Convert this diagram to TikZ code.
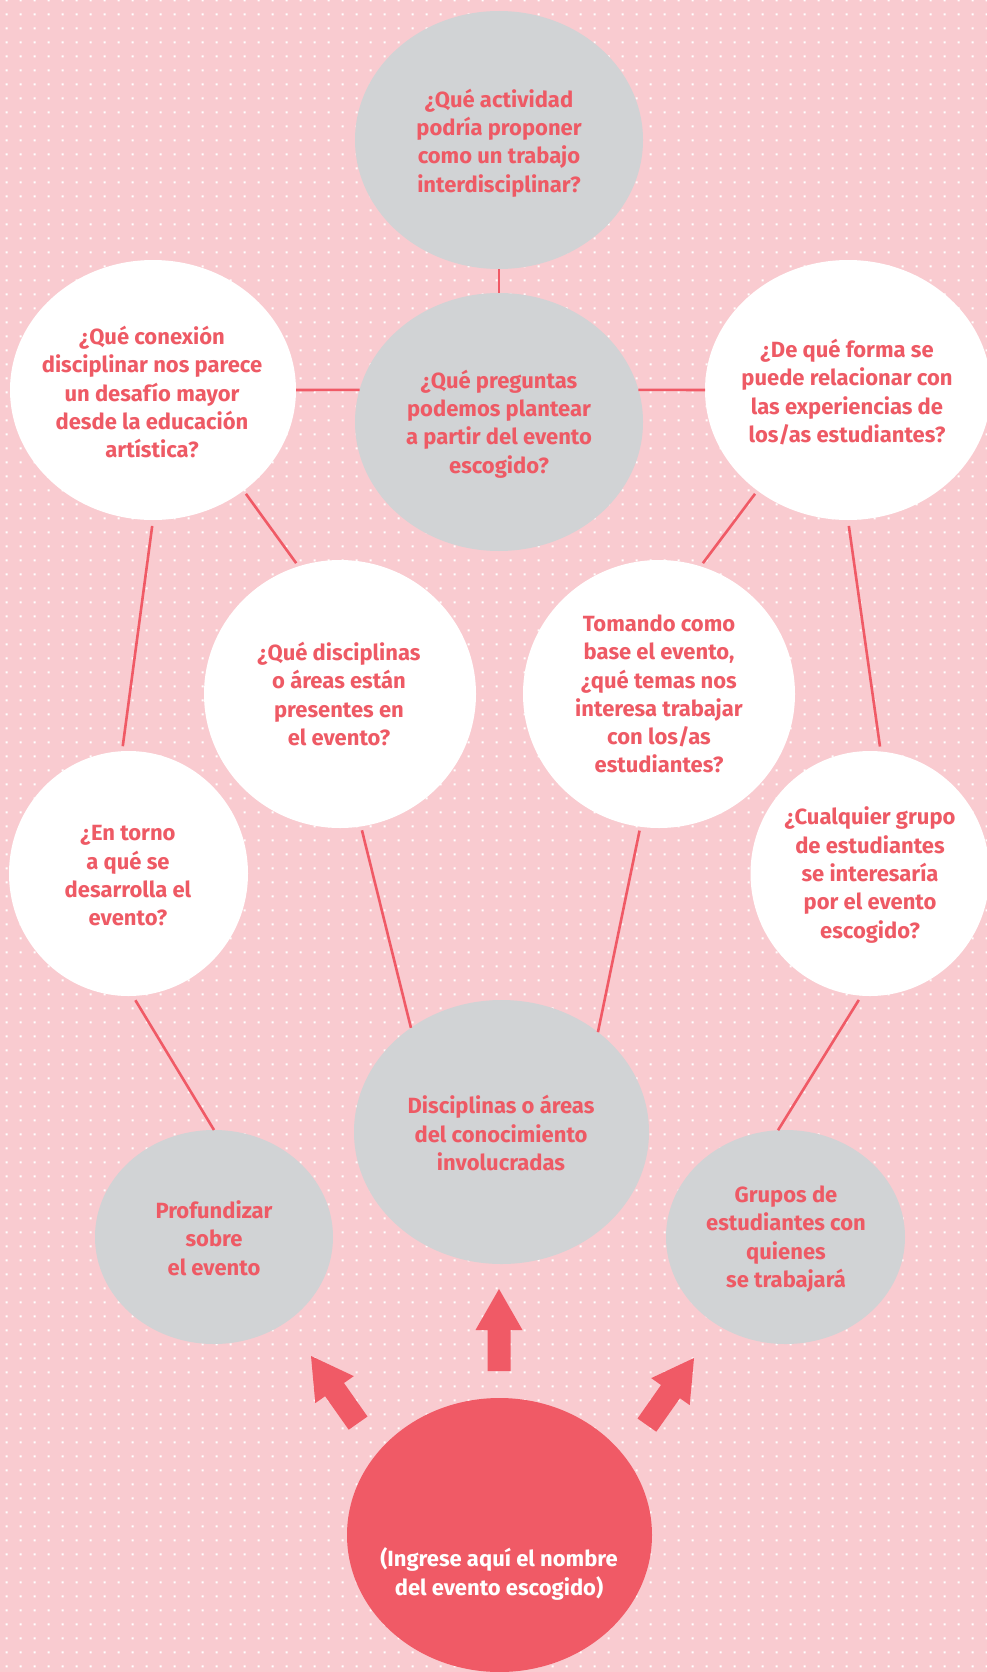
\documentclass[tikz,border=0pt]{standalone}
\usepackage{fontspec}
\setmainfont{Fira Sans}
\usetikzlibrary{shapes.geometric,patterns.meta}
\definecolor{bgpink}{RGB}{249,203,208}
\definecolor{bgray}{RGB}{209,211,213}
\definecolor{bred}{RGB}{240,90,102}
\definecolor{tred}{RGB}{238,90,101}
\tikzdeclarepattern{
  name=gdots,
  type=colored,
  bottom left={(0pt,0pt)},
  top right={(13.67pt,13.67pt)},
  tile size={(13.67pt,13.67pt)},
  code={\fill[white] (5.8pt,5.8pt) rectangle (7.9pt,7.9pt);}
}
\tikzset{
  bub/.style={ellipse, inner sep=0pt, outer sep=0pt, draw=none},
  graybub/.style={bub, fill=bgray},
  whitebub/.style={bub, fill=white},
  redbub/.style={bub, fill=bred},
  txt/.style={align=center, inner sep=0pt, text=tred, font=\bfseries\fontsize{22}{28.3}\selectfont},
  wtxt/.style={txt, text=white},
  conn/.style={draw=bred, line width=2.6pt},
  blockarrow/.style={fill=bred, draw=none}
}
\begin{document}
\begin{tikzpicture}[x=1pt,y=-1pt]
\useasboundingbox (0,0) rectangle (987,1672);
\fill[bgpink] (0,0) rectangle (987,1672);
\fill[pattern=gdots] (0,0) rectangle (987,1672);

% bubbles
\node[graybub, minimum width=288, minimum height=258] (top) at (499,140) {};
\node[graybub, minimum width=288, minimum height=258] (ctr) at (499,422) {};
\node[whitebub, minimum width=286, minimum height=260] (lu) at (153,390) {};
\node[whitebub, minimum width=286, minimum height=260] (ru) at (848,390) {};
\node[whitebub, minimum width=272, minimum height=268] (ml) at (340,694) {};
\node[whitebub, minimum width=272, minimum height=268] (mr) at (659,694) {};
\node[whitebub, minimum width=239, minimum height=245] (et) at (128.5,873.5) {};
\node[whitebub, minimum width=239, minimum height=245] (cg) at (870,873.5) {};
\node[graybub, minimum width=295, minimum height=264] (dis) at (501.5,1132) {};
\node[graybub, minimum width=238, minimum height=214] (pro) at (214,1237) {};
\node[graybub, minimum width=239, minimum height=214] (gru) at (785.5,1237) {};
\node[redbub, minimum width=305, minimum height=274] (red) at (499.5,1535) {};

% texts
\node[txt] (ttop) at (499,143) {¿Qué actividad\\podría proponer\\como un trabajo\\interdisciplinar?};
\node[txt] (tctr) at (499,424) {¿Qué preguntas\\podemos plantear\\a partir del evento\\escogido?};
\node[txt] (tlu) at (152,392) {¿Qué conexión\\disciplinar nos parece\\un desafío mayor\\desde la educación\\artística?};
\node[txt] (tru) at (847,392) {¿De qué forma se\\puede relacionar con\\las experiencias de\\los/as estudiantes?};
\node[txt] (tml) at (339,694) {¿Qué disciplinas\\o áreas están\\presentes en\\el evento?};
\node[txt] (tmr) at (659,694) {Tomando como\\base el evento,\\¿qué temas nos\\interesa trabajar\\con los/as\\estudiantes?};
\node[txt] (tet) at (128,876) {¿En torno\\a qué se\\desarrolla el\\evento?};
\node[txt] (tcg) at (870,875) {¿Cualquier grupo\\de estudiantes\\se interesaría\\por el evento\\escogido?};
\node[txt] (tdis) at (501,1133) {Disciplinas o áreas\\del conocimiento\\involucradas};
\node[txt] (tpro) at (214,1238) {Profundizar\\sobre\\el evento};
\node[txt] (tgru) at (786,1239) {Grupos de\\estudiantes con\\quienes\\se trabajará};
\node[wtxt] (tred) at (499,1574) {(Ingrese aquí el nombre\\del evento escogido)};

% connectors
\draw[conn] (top.south) -- (ctr.north);
\draw[conn] (lu.east) -- (ctr.167);
\draw[conn] (ctr.13) -- (ru.west);
\draw[conn, shorten <=4pt, shorten >=4pt] (lu.-48) -- (ml.108);
\draw[conn, shorten <=4pt, shorten >=4pt] (ru.-132) -- (mr.72);
\draw[conn, shorten <=6pt, shorten >=5pt] (lu.-90) -- (et.93.4);
\draw[conn, shorten <=6pt, shorten >=5pt] (ru.-90) -- (cg.85.5);
\draw[conn, shorten <=4pt] (ml.-81.7) -- (dis.131.9);
\draw[conn, shorten <=4pt] (mr.-98.7) -- (dis.46.6);
\draw[conn, shorten <=5pt] (et.-88.9) -- (pro.north);
\draw[conn, shorten <=5pt] (cg.-94) -- (gru.94);

% block arrows
\fill[blockarrow] (499,1289) -- (522.5,1330) -- (510.5,1330) -- (510.5,1371) -- (487.5,1371) -- (487.5,1330) -- (475.5,1330) -- cycle;
\fill[blockarrow] (311,1356) -- (353.8,1376.1) -- (344.0,1383.0) -- (367.5,1416.5) -- (348.7,1429.7) -- (325.1,1396.2) -- (315.3,1403.1) -- cycle;
\fill[blockarrow] (694,1358) -- (651.2,1378.1) -- (661.0,1385.0) -- (637.5,1418.5) -- (656.3,1431.7) -- (679.9,1398.2) -- (689.7,1405.1) -- cycle;
\end{tikzpicture}
\end{document}
